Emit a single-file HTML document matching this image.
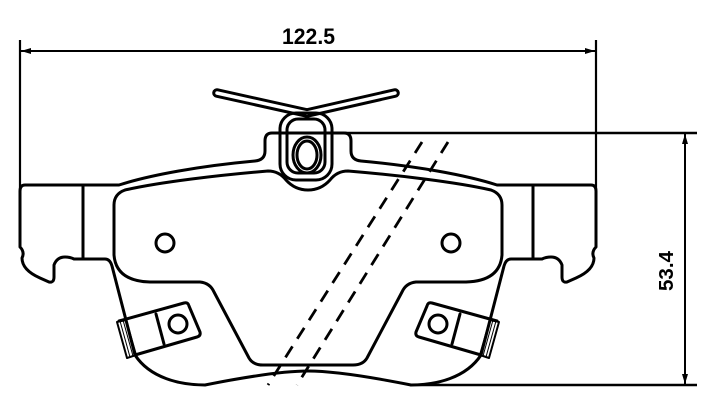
<!DOCTYPE html>
<html><head><meta charset="utf-8"><style>html,body{margin:0;padding:0;background:#fff}svg{display:block}</style></head>
<body>
<svg width="713" height="409" viewBox="0 0 713 409" xmlns="http://www.w3.org/2000/svg">
<defs>
<marker id="ar" viewBox="0 0 10 6" refX="10" refY="3" markerWidth="10" markerHeight="6" orient="auto-start-reverse" markerUnits="userSpaceOnUse"><path d="M0,0 L10,3 L0,6 Z" fill="#000"/></marker>
<g id="half" fill="none" stroke="#000" stroke-width="3" stroke-linejoin="round" stroke-linecap="round">
<path d="M308,133 L272,133 Q265,133 265,141 L265,151 Q265,160 255,161 C200,166 150,175 119,185 L25,185 Q20,185 20,191 L20,247 Q25,252 22,258 Q22,270 40,278 L49,282 Q54,283 54,277 L54,265 Q57,257 65,257 Q70,257 74,259 L105,259 Q110,259 112,266 L135,355 C150,378 180,385 205,385 C240,378 280,371 308,371"/>
<path d="M308,190 Q295,190 286,180 Q279,171 268,171 C220,175 160,182 125,190 Q114,194 114,205 L114,255 Q116,281 150,282 L200,282 Q210,283 214,292 L249,358 Q253,365 263,365 L308,365"/>
<path d="M83,185 L83,259"/>
<path d="M119,321 L184,303 Q188,302 189,306 L200,332 Q201,336 197,337 L135,355"/>
<path d="M156,314 L164,344"/>
<circle cx="178" cy="324" r="9"/>
<circle cx="165" cy="243" r="9"/>
<path d="M117,322 L126,320 L136,355 L127,358 Z" stroke-width="2"/>
<path d="M120,321 L130,357 M123,320 L133,356" stroke-width="1"/>
</g>
</defs>
<use href="#half"/>
<use href="#half" transform="translate(616,0) scale(-1,1)"/>
<g fill="none" stroke="#000" stroke-linecap="round">
<path d="M217,93 L307,113 L395,93" stroke-width="9.5"/>
<path d="M217,93 L307,113 L395,93" stroke="#fff" stroke-width="3.5"/>
<rect x="280" y="113" width="52" height="67" rx="16" stroke-width="3"/>
<rect x="287" y="119" width="38" height="54" rx="11" stroke-width="3"/>
<ellipse cx="307" cy="155" rx="14" ry="18" stroke-width="3"/>
<ellipse cx="307" cy="155" rx="10" ry="14" stroke-width="3"/>
<path d="M422,142 L268,385 M448,142 L297,385" stroke-width="2.8" stroke-dasharray="13,9" stroke-linecap="butt"/>
</g>
<g stroke="#000" fill="none" stroke-width="2.2">
<path d="M20,40 L20,190 M596,40 L596,190"/>
<path d="M21,51 L595,51" marker-start="url(#ar)" marker-end="url(#ar)" stroke-width="2"/>
<path d="M345,133 L697,133 M410,385 L697,385" stroke-width="2.6"/>
<path d="M685,134 L685,384" marker-start="url(#ar)" marker-end="url(#ar)" stroke-width="2"/>
</g>
<text x="282" y="44" font-family="Liberation Sans, sans-serif" font-weight="bold" font-size="22" textLength="53" lengthAdjust="spacingAndGlyphs">122.5</text>
<text transform="translate(673,291) rotate(-90)" font-family="Liberation Sans, sans-serif" font-weight="bold" font-size="20" textLength="40" lengthAdjust="spacingAndGlyphs">53.4</text>
</svg>
</body></html>
